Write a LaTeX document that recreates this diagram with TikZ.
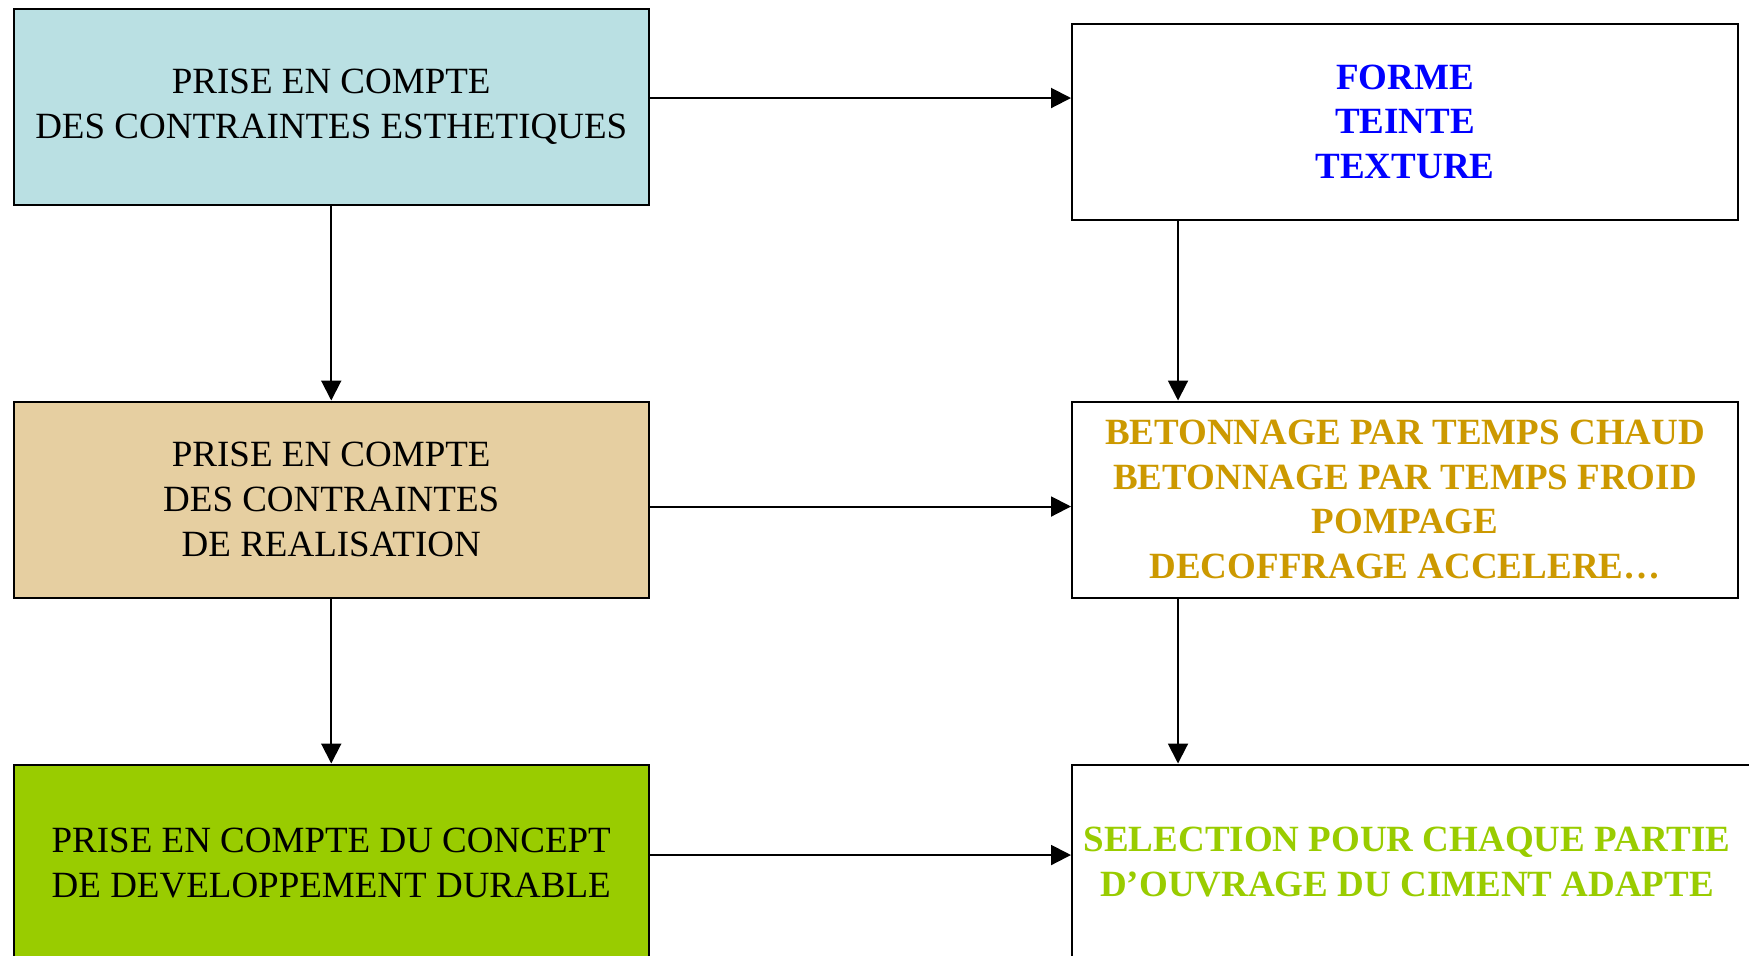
\documentclass[tikz,border=0pt]{standalone}
\usepackage{fontspec}
\setmainfont{Liberation Serif}
\usetikzlibrary{arrows.meta,calc}
\definecolor{boxblue}{RGB}{186,224,227}
\definecolor{boxtan}{RGB}{230,207,161}
\definecolor{boxgreen}{RGB}{153,204,0}
\definecolor{txtgold}{RGB}{204,153,0}
\definecolor{txtblue}{RGB}{0,0,255}
\begin{document}
\begin{tikzpicture}[x=0.5pt,y=-0.5pt,
  box/.style={draw=black,line width=1pt,rectangle,anchor=north west,inner sep=0pt,align=center,minimum width=317.75pt,minimum height=98pt},
  wide/.style={box,minimum width=333pt},
  reg/.style={font=\fontsize{18.5}{22.3}\selectfont},
  bld/.style={font=\fontsize{18.5}{22.25}\selectfont\bfseries},
  arr/.style={line width=1pt,-{Triangle[length=10pt,width=10pt]}}]
\useasboundingbox (0,0) rectangle (1749,955);
\node[box,fill=boxblue,reg] (b1) at (12.5,7.5) {PRISE EN COMPTE\\DES CONTRAINTES ESTHETIQUES};
\node[wide,bld,text=txtblue] (b2) at (1071,22.5) {FORME\\TEINTE\\TEXTURE};
\node[box,fill=boxtan,reg] (b3) at (12.5,400.5) {PRISE EN COMPTE\\DES CONTRAINTES\\DE REALISATION};
\node[wide,bld,text=txtgold] (b4) at (1071,400.5) {BETONNAGE PAR TEMPS CHAUD\\BETONNAGE PAR TEMPS FROID\\POMPAGE\\DECOFFRAGE ACCELERE…};
\node[box,fill=boxgreen,reg,minimum height=98.5pt] (b5) at (12.5,763.5) {PRISE EN COMPTE DU CONCEPT\\DE DEVELOPPEMENT DURABLE};
\node[box,minimum width=350pt,minimum height=98.5pt] (b6) at (1071,763.5) {};
\node[bld,text=boxgreen,align=center] (t6) at (1407,862) {SELECTION POUR CHAQUE PARTIE\\D’OUVRAGE DU CIMENT ADAPTE};
\draw[arr] ($(b1.north east)+(0,90.5)$) -- ($(b2.north west)+(0,75.5)$);
\draw[arr] (b1.south) -- (b3.north);
\draw[arr] ($(b2.south west)+(107,0)$) -- ($(b4.north west)+(107,0)$);
\draw[arr] ($(b3.east)+(0,7)$) -- ($(b4.west)+(0,7)$);
\draw[arr] (b3.south) -- (b5.north);
\draw[arr] ($(b4.south west)+(107,0)$) -- ($(b6.north west)+(107,0)$);
\draw[arr] ($(b5.north east)+(0,91.5)$) -- ($(b6.north west)+(0,91.5)$);
\end{tikzpicture}
\end{document}
